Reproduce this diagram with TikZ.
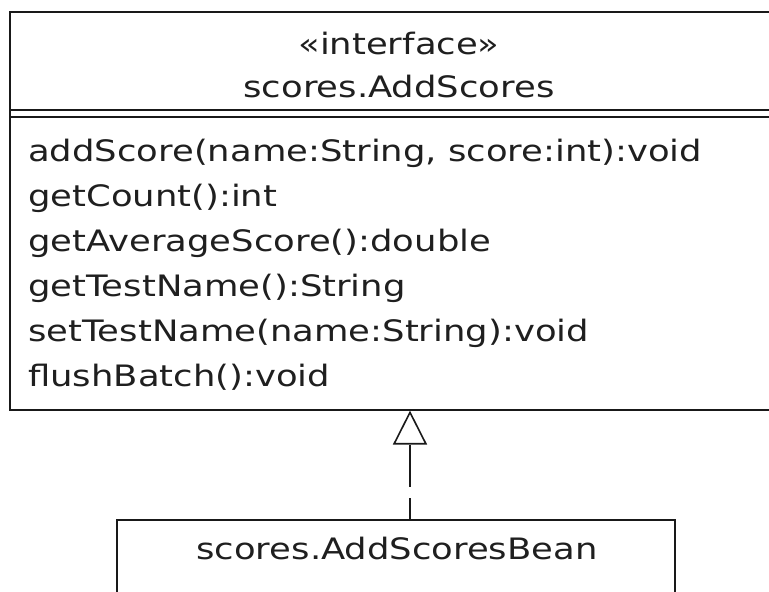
\documentclass[tikz,border=0pt]{standalone}
\usepackage{fontspec}
\setmainfont{DejaVu Sans}
\usepackage{graphicx}
\usetikzlibrary{arrows.meta}
\newlength\reflen
\newcommand\fs{\fontsize{29.5}{32}\selectfont}
\settowidth\reflen{\fs addScore(name:String, score:int):void}
\pgfmathsetmacro\sx{674/\reflen}
\newcommand\txt[1]{\scalebox{\sx}[1]{\fs #1}}
\begin{document}
\begin{tikzpicture}[x=1pt,y=1pt,
  umlbox/.style={draw=black!90, line width=1.6pt, rectangle, inner sep=0pt},
  sepline/.style={draw=black!90, line width=1.6pt},
  lbl/.style={inner sep=0pt, text=black!88},
  realize/.style={draw=black!90, line width=1.4pt, dash pattern=on 42pt off 11pt, dash phase=21pt,
    -{Triangle[open, length=34pt, width=34pt, line width=1.6pt]}}]
\useasboundingbox (0,0) rectangle (769,592);
\fill[white] (0,0) rectangle (769,592);
\clip (0,0) rectangle (769,592);
% interface box
\node[umlbox, minimum width=781pt, minimum height=398pt, anchor=north west] (iface) at (9,581) {};
\draw[sepline] (iface.north west |- 0,482) -- (iface.north east |- 0,482);
\draw[sepline] (iface.north west |- 0,475) -- (iface.north east |- 0,475);
\node[lbl, anchor=base] (stereo) at (399,537) {\txt{«interface»}};
\node[lbl, anchor=base] (iname) at (399,494) {\txt{scores.AddScores}};
\node[lbl, anchor=base west] (m1) at (28,430) {\txt{addScore(name:String, score:int):void}};
\node[lbl, anchor=base west] (m2) at (28,385) {\txt{getCount():int}};
\node[lbl, anchor=base west] (m3) at (28,340) {\txt{getAverageScore():double}};
\node[lbl, anchor=base west] (m4) at (28,295) {\txt{getTestName():String}};
\node[lbl, anchor=base west] (m5) at (28,250) {\txt{setTestName(name:String):void}};
\node[lbl, anchor=base west] (m6) at (28,205) {\txt{flushBatch():void}};
% bean box
\node[umlbox, minimum width=558pt, minimum height=110pt, anchor=north west] (bean) at (116,73) {};
\node[lbl, anchor=base] (bname) at (397,32) {\txt{scores.AddScoresBean}};
% realization
\coordinate (rx) at (410,0);
\draw[realize] (bean.north -| rx) -- (iface.south -| rx);
\end{tikzpicture}
\end{document}
